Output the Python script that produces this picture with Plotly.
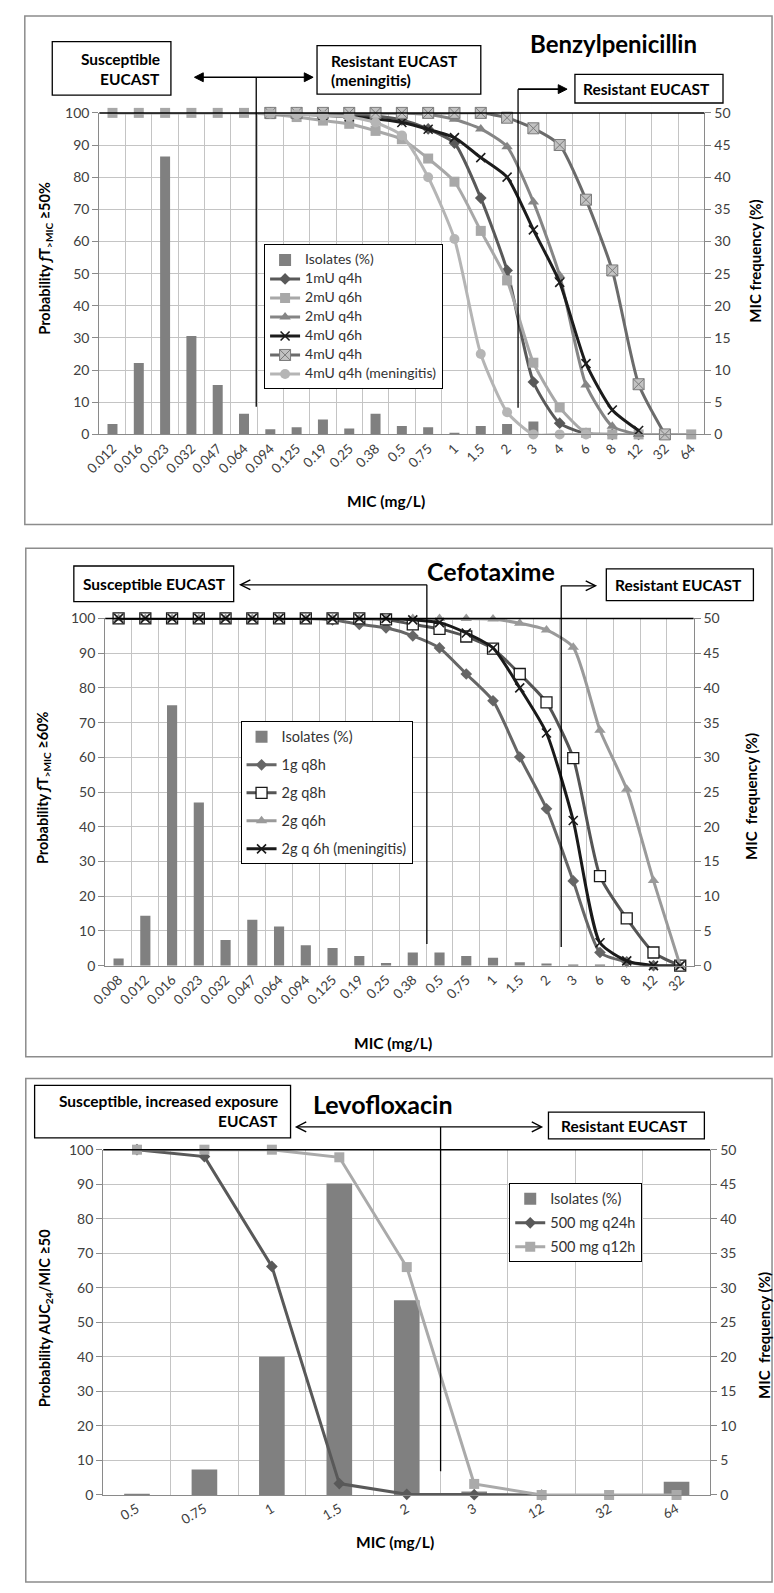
import plotly.graph_objects as go

W, H = 774, 1593
FONT = "Lato, 'Liberation Sans', sans-serif"

# ---------------- Benzylpenicillin ----------------
pen_mic = ["0.012", "0.016", "0.023", "0.032", "0.047", "0.064", "0.094", "0.125",
           "0.19", "0.25", "0.38", "0.5", "0.75", "1", "1.5", "2", "3", "4", "6",
           "8", "12", "32", "64"]
pen_isolates = [1.6, 11.1, 43.2, 15.3, 7.7, 3.2, 0.8, 1.1, 2.3, 0.9, 3.2, 1.3,
                1.1, 0.25, 1.3, 1.6, 2.0, 0, 0, 0, 0, 0, 0]
pen_1mU_q4h = [None, None, None, None, None, None, 100, 100, 99.8, 99.5, 99, 97.8,
               95, 90.6, 73.5, 51, 16.3, 3.5, 0.3, 0, 0, None, None]
pen_2mU_q6h = [100, 100, 100, 100, 100, 100, 99.6, 98.7, 97.6, 96.6, 94.4, 91.8,
               85.8, 78.6, 63.3, 47.9, 22.3, 8.4, 0.5, 0, 0, 0, 0]
pen_2mU_q4h = [None, None, None, None, None, None, 100, 100, 100, 100, 100, 100,
               99.5, 98, 95, 89.5, 72.3, 49.4, 15.4, 2.5, 0, None, None]
pen_4mU_q6h = [None, None, None, None, None, None, 99.8, 99.6, 99.3, 98.8, 98.2, 97,
               94.9, 92.3, 86.1, 80, 63.6, 47.3, 22, 7.6, 1.2, None, None]
pen_4mU_q4h = [None, None, None, None, None, None, 100, 100, 100, 100, 100, 100,
               100, 100, 100, 98.5, 95.2, 90, 73, 51, 15.6, 0, None]
pen_4mU_q4h_men = [None, None, None, None, None, None, 99.8, 99.5, 99.2, 98.8, 97, 93,
                   80, 60.8, 25, 6.9, 0, 0, 0, None, None, None, None]

# ---------------- Cefotaxime ----------------
cef_mic = ["0.008", "0.012", "0.016", "0.023", "0.032", "0.047", "0.064", "0.094",
           "0.125", "0.19", "0.25", "0.38", "0.5", "0.75", "1", "1.5", "2", "3",
           "6", "8", "12", "32"]
cef_isolates = [1.05, 7.2, 37.5, 23.5, 3.7, 6.6, 5.65, 2.95, 2.55, 1.4, 0.4, 1.9,
                1.9, 1.4, 1.15, 0.5, 0.3, 0.1, 0.05, 0, 0, 0]
cef_1g_q8h = [100, 100, 100, 100, 100, 100, 100, 100, 99.6, 98.3, 97.3, 95,
              91.5, 84, 76.3, 60.1, 45.2, 24.4, 3.8, 1.1, 0, 0]
cef_2g_q8h = [100, 100, 100, 100, 100, 100, 100, 100, 100, 100, 99.7, 98.3,
              97, 94.8, 91.3, 84, 75.8, 59.8, 25.8, 13.6, 3.8, 0]
cef_2g_q6h = [100, 100, 100, 100, 100, 100, 100, 100, 100, 100, 100, 100,
              100, 100, 99.8, 98.6, 96.7, 91.7, 67.8, 50.8, 24.5, 0]
cef_2g_q6h_men = [100, 100, 100, 100, 100, 100, 100, 100, 100, 100, 100, 99.6,
                  98.8, 95.8, 91.5, 80, 67, 41.8, 6.6, 1.4, 0, 0]

# ---------------- Levofloxacin ----------------
levo_mic = ["0.5", "0.75", "1", "1.5", "2", "3", "12", "32", "64"]
levo_isolates = [0.15, 3.7, 20.0, 45.1, 28.2, 0.5, 0, 0, 1.9]
levo_500_q24h = [100, 98, 66.2, 3.3, 0.2, 0.1, 0, None, None]
levo_500_q12h = [100, 100, 100, 97.8, 66, 3.2, 0, 0, 0]


def px(x):
    return x / W


def py(y):
    return 1 - y / H


GRID = "#c4c4c4"
AXL = "#8a8a8a"
BAR = "#808080"
TICKF = dict(family=FONT, size=13.5, color="#404040")
YTICKF = dict(family=FONT, size=14, color="#404040")

fig = go.Figure()


def label(name, size):
    return f'<span style="font-size:{size}px">{name}</span>'


def bar(x, y, xa, ya, leg, size):
    fig.add_trace(go.Bar(x=x, y=y, xaxis=xa, yaxis=ya, name=label("Isolates (%)", size),
                         marker=dict(color=BAR, line=dict(width=0)), width=0.38,
                         legend=leg, legendgroup=leg + "bar"))


def curve(x, y, xa, ya, leg, name, color, marker, size, shape="spline"):
    fig.add_trace(go.Scatter(x=x, y=y, xaxis=xa, yaxis=ya, name=label(name, size),
                             mode="lines+markers", cliponaxis=False,
                             line=dict(color=color, width=3, shape=shape, smoothing=0.6),
                             marker=marker, legend=leg, legendgroup=leg + name))


# Benzylpenicillin traces
S1 = 14
bar(pen_mic, pen_isolates, "x", "y", "legend", S1)
curve(pen_mic, pen_1mU_q4h, "x", "y2", "legend", "1mU q4h", "#595959",
      dict(symbol="diamond", size=9, color="#595959"), S1)
curve(pen_mic, pen_2mU_q6h, "x", "y2", "legend", "2mU q6h", "#a8a8a8",
      dict(symbol="square", size=10, color="#a8a8a8"), S1)
curve(pen_mic, pen_2mU_q4h, "x", "y2", "legend", "2mU q4h", "#858585",
      dict(symbol="triangle-up", size=10, color="#858585"), S1)
curve(pen_mic, pen_4mU_q6h, "x", "y2", "legend", "4mU q6h", "#1c1c1c",
      dict(symbol="x-thin", size=9, color="#1c1c1c", line=dict(width=1.6, color="#1c1c1c")), S1)
curve(pen_mic, pen_4mU_q4h, "x", "y2", "legend", "4mU q4h", "#6b6b6b",
      dict(symbol="square-x", size=11, color="#c2c2c2", line=dict(width=1, color="#7a7a7a")), S1)
curve(pen_mic, pen_4mU_q4h_men, "x", "y2", "legend", "4mU q4h (meningitis)", "#b5b5b5",
      dict(symbol="circle", size=10, color="#b5b5b5"), S1)

# Cefotaxime traces
S2 = 14.5
bar(cef_mic, cef_isolates, "x2", "y3", "legend2", S2)
curve(cef_mic, cef_1g_q8h, "x2", "y4", "legend2", "1g q8h", "#666666",
      dict(symbol="diamond", size=9, color="#666666"), S2)
curve(cef_mic, cef_2g_q8h, "x2", "y4", "legend2", "2g q8h", "#555555",
      dict(symbol="square", size=11, color="white", line=dict(width=1.3, color="#1a1a1a")), S2)
curve(cef_mic, cef_2g_q6h, "x2", "y4", "legend2", "2g q6h", "#9a9a9a",
      dict(symbol="triangle-up", size=10, color="#9a9a9a"), S2)
curve(cef_mic, cef_2g_q6h_men, "x2", "y4", "legend2", "2g q 6h (meningitis)", "#1a1a1a",
      dict(symbol="x-thin", size=9, color="#1a1a1a", line=dict(width=1.6, color="#1a1a1a")), S2)

# Levofloxacin traces
S3 = 14.5
bar(levo_mic, levo_isolates, "x3", "y5", "legend3", S3)
curve(levo_mic, levo_500_q24h, "x3", "y6", "legend3", "500 mg q24h", "#595959",
      dict(symbol="diamond", size=9, color="#595959"), S3, shape="linear")
curve(levo_mic, levo_500_q12h, "x3", "y6", "legend3", "500 mg q12h", "#aaaaaa",
      dict(symbol="square", size=10, color="#aaaaaa"), S3, shape="linear")

panels = [
    ("xaxis", "yaxis", "yaxis2", "y", "x", pen_mic, (86, 703), (105, 430), -45),
    ("xaxis2", "yaxis3", "yaxis4", "y3", "x2", cef_mic, (92, 692), (616, 967), -45),
    ("xaxis3", "yaxis5", "yaxis6", "y5", "x3", levo_mic, (90, 709), (1153, 1502), -30),
]

layout = dict(
    width=W, height=H, autosize=False,
    margin=dict(l=0, r=0, t=0, b=0),
    paper_bgcolor="white", plot_bgcolor="rgba(0,0,0,0)",
    barmode="overlay", showlegend=True,
    font=dict(family=FONT, color="#404040"),
)

for xa, yb, yo, ybref, xref, cats, (x0, x1), (y0, y1), ang in panels:
    layout[xa] = dict(domain=[px(x0), px(x1)], anchor=ybref, type="category",
                      categoryorder="array", categoryarray=cats,
                      range=[-0.5, len(cats) - 0.5], tickson="boundaries",
                      showgrid=True, gridcolor=GRID, gridwidth=1.2,
                      showline=True, linecolor=AXL, linewidth=1.2, ticks="",
                      tickangle=ang, tickfont=TICKF, fixedrange=True)
    layout[yb] = dict(domain=[py(y1), py(y0)], anchor=xref, side="right",
                      range=[0, 50], dtick=5, showgrid=True, gridcolor=GRID,
                      gridwidth=1.2, zeroline=False, showline=True, linecolor=AXL,
                      linewidth=1.2, ticks="outside", ticklen=6, tickcolor=AXL,
                      tickfont=YTICKF, fixedrange=True)
    layout[yo] = dict(overlaying=ybref, anchor=xref, side="left", range=[0, 100],
                      dtick=10, showgrid=False, zeroline=False, showline=True,
                      linecolor=AXL, linewidth=1.2, ticks="outside", ticklen=6,
                      tickcolor=AXL, tickfont=YTICKF, fixedrange=True)

layout["legend"] = dict(x=px(254), y=py(238), xanchor="left", yanchor="top",
                        bgcolor="white", bordercolor="black", borderwidth=1,
                        font=dict(family=FONT, size=11.5, color="#333333"),
                        traceorder="grouped", tracegroupgap=0)
layout["legend2"] = dict(x=px(230), y=py(720), xanchor="left", yanchor="top",
                         bgcolor="white", bordercolor="black", borderwidth=1,
                         font=dict(family=FONT, size=12, color="#333333"),
                         traceorder="grouped", tracegroupgap=9)
layout["legend3"] = dict(x=px(504), y=py(1187), xanchor="left", yanchor="top",
                         bgcolor="white", bordercolor="black", borderwidth=1,
                         font=dict(family=FONT, size=12, color="#333333"),
                         traceorder="grouped", tracegroupgap=5)

shapes = []


def rect(x0, y0, x1, y1, color="black", width=1.3):
    shapes.append(dict(type="rect", xref="paper", yref="paper",
                       x0=px(x0), x1=px(x1), y0=py(y0), y1=py(y1),
                       line=dict(color=color, width=width)))


def seg(x0, y0, x1, y1, width=1.3, color="black"):
    shapes.append(dict(type="line", xref="paper", yref="paper",
                       x0=px(x0), x1=px(x1), y0=py(y0), y1=py(y1),
                       line=dict(color=color, width=width)))


def head(xt, yt, direction, filled):
    # arrow head with its tip at (xt, yt); direction +1 points right, -1 left
    back = xt - direction * (9 if filled else 10)
    half = 4.5 if filled else 5
    p = (f"M{px(back)},{py(yt - half)} L{px(xt)},{py(yt)} L{px(back)},{py(yt + half)}")
    if filled:
        shapes.append(dict(type="path", xref="paper", yref="paper", path=p + " Z",
                           fillcolor="black", line=dict(color="black", width=1)))
    else:
        shapes.append(dict(type="path", xref="paper", yref="paper", path=p,
                           line=dict(color="black", width=1.4)))


# panel frames
rect(10, 7, 772, 521, color="#8c8c8c", width=1.5)
rect(11, 545, 772, 1059, color="#8c8c8c", width=1.5)
rect(11, 1081, 772, 1590, color="#8c8c8c", width=1.5)

# top edge lines of the plot areas
seg(86, 105, 703, 105, width=1.5)
seg(92, 616, 692, 616, width=1.5)
seg(90, 1153, 709, 1153, width=1.5)

# Benzylpenicillin breakpoints
rect(38, 33, 159, 87)
rect(308, 37, 475, 86)
rect(571, 66, 722, 95)
seg(246, 69, 246, 402)
seg(185, 69, 302, 69, width=1.6)
head(183, 69, -1, True)
head(304, 69, 1, True)
seg(513, 81, 513, 403)
seg(513, 81, 561, 81, width=1.6)
head(563, 81, 1, True)

# Cefotaxime breakpoints
rect(60, 563, 223, 599)
rect(603, 566, 753, 598)
seg(420, 582, 420, 945)
seg(231, 582, 420, 582)
head(230, 582, -1, False)
seg(557, 583, 557, 948)
seg(557, 583, 591, 583)
head(592, 583, 1, False)

# Levofloxacin breakpoints
rect(20, 1088, 281, 1141)
rect(544, 1115, 703, 1142)
seg(434, 1130, 434, 1478)
seg(288, 1130, 536, 1130)
head(287, 1130, -1, False)
head(537, 1130, 1, False)

layout["shapes"] = shapes

ann = []


def text(x, y, s, size=15.5, xanchor="center"):
    ann.append(dict(x=px(x), y=py(y), xref="paper", yref="paper", text=f"<b>{s}</b>",
                    showarrow=False, xanchor=xanchor, yanchor="middle",
                    font=dict(family=FONT, size=size, color="black")))


def vtitle(x, y, s, size=15):
    ann.append(dict(x=px(x), y=py(y), xref="paper", yref="paper", text=f"<b>{s}</b>",
                    showarrow=False, textangle=-90, xanchor="center", yanchor="middle",
                    font=dict(family=FONT, size=size, color="black")))


# Benzylpenicillin annotations
text(150, 51, "Susceptible", xanchor="right")
text(150, 71, "EUCAST", xanchor="right")
text(320, 53, "Resistant EUCAST", xanchor="left")
text(320, 72, "(meningitis)", xanchor="left")
text(610, 35, "Benzylpenicillin", size=24)
text(644, 81, "Resistant EUCAST")
vtitle(31, 252, "Probability <i>ƒ</i>T<sub>&gt;MIC</sub> ≥50%", size=14.5)
vtitle(755, 255, "MIC frequency (%)")
text(378, 497, "MIC (mg/L)")

# Cefotaxime annotations
text(142, 581, "Susceptible EUCAST")
text(485, 568, "Cefotaxime", size=25)
text(677, 582, "Resistant EUCAST")
vtitle(29, 787, "Probability <i>ƒ</i>T<sub>&gt;MIC</sub> ≥60%", size=14.5)
vtitle(750, 796, "MIC  frequency (%)")
text(385, 1045, "MIC (mg/L)")

# Levofloxacin annotations
text(270, 1104, "Susceptible, increased exposure", xanchor="right")
text(270, 1124, "EUCAST", xanchor="right")
text(375, 1107, "Levofloxacin", size=25)
text(622, 1129, "Resistant EUCAST")
vtitle(31, 1323, "Probability AUC<sub>24</sub>/MIC ≥50", size=14.5)
vtitle(763, 1341, "MIC  frequency (%)")
text(387, 1550, "MIC (mg/L)")

layout["annotations"] = ann

fig.update_layout(**layout)
fig.write_html("out.html")
